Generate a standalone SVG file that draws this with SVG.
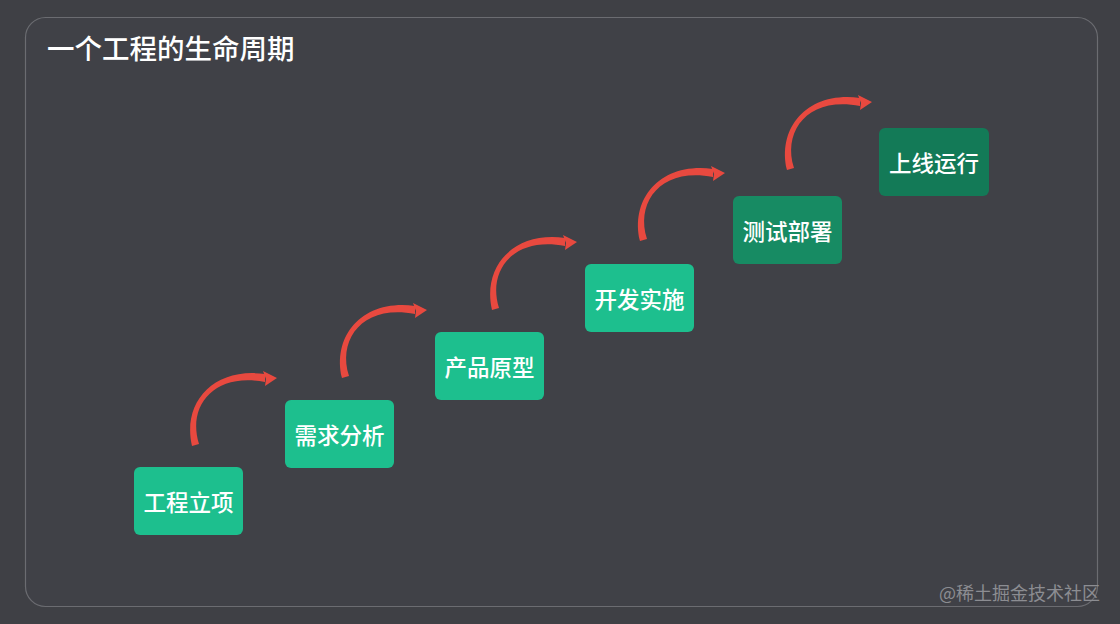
<svg xmlns="http://www.w3.org/2000/svg" width="1120" height="624" viewBox="0 0 1120 624">
<defs>
<style>
.bg{fill:#3f4045}
.panel{fill:#404147;stroke:#6b6c71;stroke-width:1.2}
.title{font-family:"Noto Sans CJK SC","Liberation Sans",sans-serif;font-size:27.5px;font-weight:500;fill:#ffffff}
.box{rx:6;ry:6}
.g1{fill:#1dbf8e}
.g2{fill:#178b63}
.g3{fill:#137a57}
.lbl{font-family:"Noto Sans CJK SC","Liberation Sans",sans-serif;font-size:22.5px;font-weight:500;fill:#ffffff;text-anchor:middle;dominant-baseline:central}
.arc{fill:#e8493f}
.head{fill:#e8493f}
.wm{font-family:"Noto Sans CJK SC","Liberation Sans",sans-serif;font-size:18px;fill:#8c8d92}
</style>
<g id="arrowShape">
<path class="arc" d="M-3,1 C-13,-42 18,-78 70,-71 L70,-63 C19,-73 -8,-39 4,-1 Z"/>
<path class="head" d="M68,-74 L82,-67 L70,-59 L71,-66 Z"/>
</g>
</defs>
<rect class="bg" x="0" y="0" width="1120" height="624"/>
<rect class="panel" x="25.5" y="17.5" width="1072" height="589" rx="20" ry="20"/>
<text class="title" x="47" y="59">一个工程的生命周期</text>
<g id="connectors">
<use href="#arrowShape" transform="translate(195,445)"/>
<use href="#arrowShape" transform="translate(345,377)"/>
<use href="#arrowShape" transform="translate(495,309)"/>
<use href="#arrowShape" transform="translate(643,240)"/>
<use href="#arrowShape" transform="translate(790,169)"/>
</g>
<g id="n1"><rect class="box g1" x="134" y="467" width="109" height="68"/><text class="lbl" x="188.5" y="501">工程立项</text></g>
<g id="n2"><rect class="box g1" x="285" y="400" width="109" height="68"/><text class="lbl" x="339.5" y="434">需求分析</text></g>
<g id="n3"><rect class="box g1" x="435" y="332" width="109" height="68"/><text class="lbl" x="489.5" y="366">产品原型</text></g>
<g id="n4"><rect class="box g1" x="585" y="264" width="109" height="68"/><text class="lbl" x="639.5" y="298">开发实施</text></g>
<g id="n5"><rect class="box g2" x="733" y="196" width="109" height="68"/><text class="lbl" x="787.5" y="230">测试部署</text></g>
<g id="n6"><rect class="box g3" x="879" y="128" width="110" height="68"/><text class="lbl" x="934" y="162">上线运行</text></g>
<text class="wm" x="939" y="600">@稀土掘金技术社区</text>
</svg>
